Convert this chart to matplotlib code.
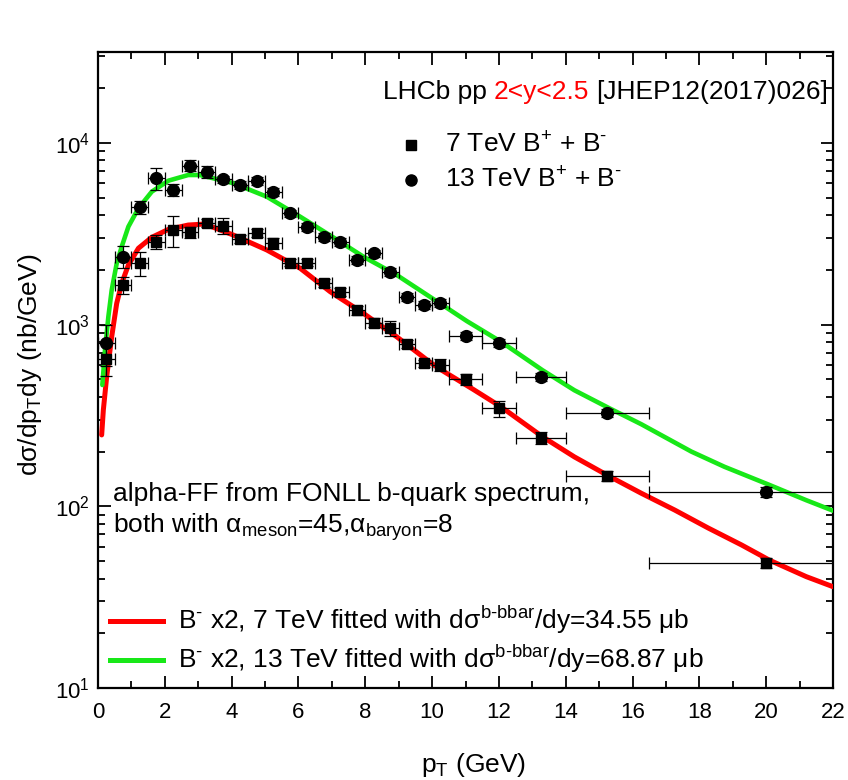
import matplotlib
matplotlib.use("Agg")
import matplotlib.pyplot as plt
from matplotlib.ticker import MultipleLocator, LogLocator, NullFormatter

plt.rcParams['font.family'] = ['Liberation Sans', 'DejaVu Sans']
plt.rcParams['mathtext.fontset'] = 'custom'
plt.rcParams['mathtext.rm'] = 'Liberation Sans'
plt.rcParams['mathtext.it'] = 'Liberation Sans:italic'
plt.rcParams['mathtext.bf'] = 'Liberation Sans:bold'
plt.rcParams['mathtext.sf'] = 'Liberation Sans'

# ---------------- data ----------------
pt_centers = [0.25, 0.75, 1.25, 1.75, 2.25, 2.75, 3.25, 3.75, 4.25, 4.75, 5.25,
              5.75, 6.25, 6.75, 7.25, 7.75, 8.25, 8.75, 9.25, 9.75, 10.25,
              11.0, 12.0, 13.25, 15.25, 20.0]
pt_err_low = [0.25] * 21 + [0.5, 0.5, 0.75, 1.25, 3.5]
pt_err_high = [0.25] * 21 + [0.5, 0.5, 0.75, 1.25, 20.0]

xs_7tev = [650, 1652, 2173, 2858, 3318, 3221, 3611, 3491, 2946, 3178, 2800,
           2193, 2193, 1686, 1517, 1203, 1025, 955, 782, 612, 600,
           500, 346, 237, 147, 49]
err_7tev = [130, 170, 330, 250, 650, 230, 180, 350, 150, 160, 200,
            90, 90, 85, 75, 70, 60, 95, 40, 30, 45,
            35, 35, 18, 9, 3]

xs_13tev = [790, 2366, 4416, 6383, 5504, 7500, 6937, 6310, 5866, 6166, 5346,
            4093, 3459, 3048, 2860, 2266, 2468, 1954, 1413, 1282, 1318,
            865, 789, 516, 327, 120]
err_13tev = [200, 330, 350, 900, 400, 500, 500, 300, 300, 300, 270,
             200, 170, 150, 140, 110, 120, 100, 70, 60, 65,
             45, 40, 25, 16, 8]

fit7_pt = [0.11, 0.16, 0.26, 0.41, 0.56, 0.71, 0.91, 1.21, 1.61, 2.11, 2.70,
           3.20, 4.05, 5.05, 6.05, 6.95, 7.94, 8.94, 9.94, 10.26, 11.23, 12.06,
           13.31, 14.26, 15.31, 16.26, 17.26, 18.26, 19.26, 20.10, 21.20, 22.00]
fit7_val = [247, 339, 517, 857, 1309, 1687, 2128, 2630, 3021, 3342, 3530,
            3575, 3110, 2575, 2042, 1517, 1154, 857, 620, 565, 440, 353,
            241, 187, 146, 118, 95.4, 76.0, 61.3, 50.5, 41.0, 36.1]

fit13_pt = [0.13, 0.21, 0.31, 0.41, 0.56, 0.71, 0.91, 1.21, 1.61, 2.11, 2.70,
            3.05, 4.05, 5.05, 6.05, 7.04, 7.94, 8.94, 9.94, 10.26, 11.04, 12.06,
            13.31, 14.26, 15.31, 16.26, 17.76, 18.75, 20.10, 21.20, 22.00]
fit13_val = [465, 725, 1104, 1549, 2172, 2685, 3459, 4365, 5387, 6194, 6653,
             6653, 5998, 5058, 3925, 3021, 2366, 1875, 1420, 1300, 1045, 805,
             560, 435, 346, 283, 200, 165, 131, 108, 94.6]

x_ticks = [0, 2, 4, 6, 8, 10, 12, 14, 16, 18, 20, 22]

RED = '#ff0000'
GREEN = '#18e818'

W, H = 848, 780
fig = plt.figure(figsize=(W / 100, H / 100), dpi=100)
L, R, T, B = 98, 833, 52, 688
ax = fig.add_axes([L / W, 1 - B / H, (R - L) / W, (B - T) / H])


def axfrac(px, py):
    return ((px - L) / (R - L), (B - py) / (B - T))


def figfrac(px, py):
    return (px / W, 1 - py / H)


ax.set_yscale('log')
ax.set_xlim(0, 22)
ax.set_ylim(10, 10 ** 4.5)

ax.plot(fit7_pt, fit7_val, color=RED, lw=3.6, solid_capstyle='round', zorder=3)
ax.plot(fit13_pt, fit13_val, color=GREEN, lw=3.3, solid_capstyle='round', zorder=3)

ekw = dict(ecolor='black', elinewidth=0.9, capsize=4.5, capthick=0.9,
           mec='black', mfc='black', linestyle='none', zorder=4)
ax.errorbar(pt_centers, xs_7tev, yerr=err_7tev, xerr=[pt_err_low, pt_err_high],
            marker='s', ms=7.5, **ekw)
ax.errorbar(pt_centers, xs_13tev, yerr=err_13tev, xerr=[pt_err_low, pt_err_high],
            marker='o', ms=8.5, **ekw)

# axes style
for s in ax.spines.values():
    s.set_linewidth(1.6)
ax.set_xticks(x_ticks)
ax.xaxis.set_minor_locator(MultipleLocator(1))
ax.yaxis.set_major_locator(LogLocator(base=10, numticks=10))
ax.yaxis.set_minor_locator(LogLocator(base=10, subs=range(2, 10), numticks=20))
ax.yaxis.set_minor_formatter(NullFormatter())
ax.tick_params(which='both', direction='in', top=True, right=True, width=1.3,
               labelsize=16)
ax.tick_params(which='major', length=9)
ax.tick_params(which='minor', length=5)
ax.tick_params(axis='x', pad=10)
ax.tick_params(axis='y', pad=6)

ax.set_xlabel("p$_{\\rm T}$ (GeV)", fontsize=19)
ax.xaxis.set_label_coords((474 - L) / (R - L), -(751 - B) / (B - T))
ax.set_ylabel("dσ/dp$_{\\rm T}$dy (nb/GeV)", fontsize=19)
ax.yaxis.set_label_coords((44 - L) / (R - L), (B - 365) / (B - T))

# header text (three colours)
fig.canvas.draw()
r = fig.canvas.get_renderer()
fs_head = 19
x0, y0 = figfrac(383, 99)
t1 = fig.text(x0, y0, "LHCb pp", fontsize=fs_head, va='baseline')
bb = t1.get_window_extent(r)
gap = 7
t2 = fig.text((bb.x1 + gap) / W, y0, "2<y<2.5", fontsize=fs_head, va='baseline', color=RED)
bb = t2.get_window_extent(r)
fig.text((bb.x1 + gap) / W, y0, "[JHEP12(2017)026]", fontsize=fs_head, va='baseline')

# marker legend
fs_leg = 19
ax.plot(*axfrac(411, 145), marker='s', ms=7.5, color='black', transform=ax.transAxes, clip_on=False)
ax.plot(*axfrac(411, 180), marker='o', ms=8, color='black', transform=ax.transAxes, clip_on=False)
fig.text(*figfrac(445, 145), "7 TeV B$^{+}$ + B$^{\\text{-}}$", fontsize=fs_leg, va='center')
fig.text(*figfrac(445, 180), "13 TeV B$^{+}$ + B$^{\\text{-}}$", fontsize=fs_leg, va='center')

# note text
fig.text(*figfrac(113, 501), "alpha-FF from FONLL b-quark spectrum,", fontsize=fs_leg, va='baseline')
fig.text(*figfrac(113, 533), "both with α$_{\\rm meson}$=45,α$_{\\rm baryon}$=8", fontsize=fs_leg, va='baseline')

# line legend
for yy, col, lab in [(621, RED, "B$^{\\text{-}}$ x2, 7 TeV fitted with dσ$^{\\text{b-bbar}}$/dy=34.55 μb"),
                     (660, GREEN, "B$^{\\text{-}}$ x2, 13 TeV fitted with dσ$^{\\text{b-bbar}}$/dy=68.87 μb")]:
    xa, ya = axfrac(110, yy)
    xb, _ = axfrac(163, yy)
    ax.plot([xa, xb], [ya, ya], color=col, lw=3.6, transform=ax.transAxes, clip_on=False)
    fig.text(*figfrac(178, yy + 8), lab, fontsize=fs_leg, va='baseline')

fig.savefig("out.png", dpi=100)
